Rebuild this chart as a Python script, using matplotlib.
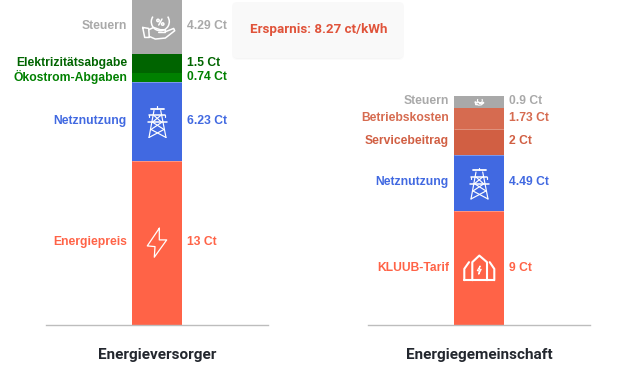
import matplotlib
matplotlib.use("Agg")
import matplotlib.pyplot as plt
from matplotlib.patches import FancyBboxPatch, Circle, Arc
from matplotlib.transforms import Affine2D

left_title = "Energieversorger"
left_labels = ["Energiepreis", "Netznutzung", "Ökostrom-Abgaben", "Elektrizitätsabgabe", "Steuern"]
left_values = [13, 6.23, 0.74, 1.5, 4.29]
left_colors = ["#FF6347", "#4169E1", "#008000", "#006400", "#A9A9A9"]
left_icons = ["bolt", "pylon", None, None, "hand"]

right_title = "Energiegemeinschaft"
right_labels = ["KLUUB-Tarif", "Netznutzung", "Servicebeitrag", "Betriebskosten", "Steuern"]
right_values = [9, 4.49, 2, 1.73, 0.9]
right_colors = ["#FF6347", "#4169E1", "#D15F43", "#D66B50", "#A9A9A9"]
right_icons = ["houses", "pylon", None, None, "hand_small"]

savings_text = "Ersparnis: 8.27 ct/kWh"

W, H = 622, 375
BASE = 325.0
Y_MAX = BASE / 12.63
LABEL_FONT = ["Liberation Sans", "DejaVu Sans"]
TITLE_FONT = ["Roboto", "DejaVu Sans"]

fig = plt.figure(figsize=(W / 100, H / 100), dpi=100, facecolor="white")


def line(ax, tf, pts, lw=1.0, closed=False):
    xs = [p[0] for p in pts]
    ys = [p[1] for p in pts]
    if closed:
        xs.append(xs[0])
        ys.append(ys[0])
    ax.plot(xs, ys, color="white", lw=lw, transform=tf, clip_on=False,
            solid_capstyle="round", solid_joinstyle="round", zorder=5)


def draw_bolt(ax, tf):
    pts = [(2.3, -14.7), (-9.7, 3), (-2, 3.7), (-2.7, 14.3), (9.7, -3), (2.3, -3)]
    line(ax, tf, pts, lw=0.9, closed=True)


def draw_pylon(ax, tf):
    lw = 0.85
    line(ax, tf, [(-3, -11), (-8, 16)], lw)
    line(ax, tf, [(3.7, -11), (9, 16)], lw)
    line(ax, tf, [(-6.3, -12.5), (6.7, -12.5)], 1.3)
    line(ax, tf, [(0.3, -15), (0.3, -12.5)], lw)
    line(ax, tf, [(-7.7, -6), (8.3, -6)], 1.1)
    line(ax, tf, [(-8.7, 0.7), (9.7, 0.7)], 1.1)
    line(ax, tf, [(-7.7, -6), (-7.7, -4)], lw)
    line(ax, tf, [(8.3, -6), (8.3, -4)], lw)
    line(ax, tf, [(-3, -6), (4.5, 0.7)], lw)
    line(ax, tf, [(3.7, -6), (-4.5, 0.7)], lw)
    line(ax, tf, [(-4.5, 0.7), (7, 8)], lw)
    line(ax, tf, [(5, 0.7), (-6, 8)], lw)
    line(ax, tf, [(-6, 8), (9, 16)], lw)
    line(ax, tf, [(7, 8), (-8, 16)], lw)


def draw_houses(ax, tf):
    lw = 1.5
    line(ax, tf, [(-6.7, 12), (-6.7, -6), (0.3, -12.6), (8, -6), (8, 12)], lw)
    line(ax, tf, [(-14.7, 12), (15.3, 12)], lw)
    line(ax, tf, [(-14.7, 12), (-14.7, 0.7), (-10, -6)], lw)
    line(ax, tf, [(15.3, 12), (15.3, 0.7), (10.7, -6)], lw)
    pts = [(1, -2), (-1.7, 2.5), (0.3, 2.5), (-0.3, 6), (2.2, 1.2), (0.3, 1.2)]
    line(ax, tf, pts, 0.8, closed=True)


def draw_hand(ax, tf, s=1.0, lw=1.1):
    def sc(pts):
        return [(x * s, y * s) for x, y in pts]
    ax.add_patch(Arc((3.3 * s, -5 * s), 18 * s, 18 * s, theta1=-35, theta2=215,
                     transform=tf, ec="white", lw=lw, zorder=5, clip_on=False))
    line(ax, tf, sc([(-14.3, 0.7), (-8.3, 1.7), (-7.7, 10.7), (-12.3, 10.7)]), lw, closed=True)
    line(ax, tf, sc([(-8.3, 3), (-3.3, 0.7), (3.3, 3), (8.3, 3), (8.3, 5.7), (1.7, 5.7)]), lw)
    line(ax, tf, sc([(8.3, 5), (16.7, 1.7), (17.7, 4), (8.3, 11.3), (-1.7, 12.3), (-7.7, 9.7)]), lw)
    if s >= 0.5:
        line(ax, tf, [(5, -7.7), (1.7, -1.7)], lw)
        for c in [(1, -6.3), (5.7, -2.7)]:
            ax.add_patch(Circle(c, 1.2, transform=tf, fc="none", ec="white", lw=lw, zorder=5, clip_on=False))


def draw_icon(ax, name, yc):
    px, py = ax.transData.transform((0, yc))
    # icon shapes are drafted in pixels around the segment centre, y pointing down
    tf = Affine2D().scale(1, -1).translate(px, py)
    if name == "bolt":
        draw_bolt(ax, tf)
    elif name == "pylon":
        draw_pylon(ax, tf)
    elif name == "houses":
        draw_houses(ax, tf)
    elif name == "hand":
        draw_hand(ax, tf)
    elif name == "hand_small":
        draw_hand(ax, tf, s=0.27, lw=0.8)


def stacked(rect_px, title, labels, values, colors, icons):
    x0, x1 = rect_px
    ax = fig.add_axes([x0 / W, 1 - BASE / H, (x1 - x0) / W, BASE / H])
    ax.patch.set_alpha(0)
    ax.set_xlim(-0.5, 0.5)
    ax.set_ylim(0, Y_MAX)
    ax.set_xticks([0])
    ax.set_xticklabels([title], fontfamily=TITLE_FONT, fontweight="bold", fontsize=11.0, color="#23272E")
    ax.tick_params(axis="x", length=0, pad=16.5)
    ax.set_yticks([])
    for side in ["left", "right", "top"]:
        ax.spines[side].set_visible(False)
    ax.spines["bottom"].set_color("#BDBDBD")
    ax.spines["bottom"].set_linewidth(1.0)

    bottom = 0
    bw = 50 / (x1 - x0)
    for label, value, color, icon in zip(labels, values, colors, icons):
        ax.bar(0, value, width=bw, bottom=bottom, color=color, linewidth=0, zorder=2)
        yc = bottom + value / 2
        if bottom and color not in ("#006400", "#A9A9A9"):
            ax.hlines(bottom, -bw / 2, bw / 2, color="white", lw=0.5, alpha=0.45, zorder=3)
        ax.annotate(label, (-bw / 2, yc), xytext=(-3.6, 0.4), textcoords="offset points",
                    ha="right", va="center", color=color, fontfamily=LABEL_FONT,
                    fontweight="bold", fontsize=8.7, annotation_clip=False)
        ax.annotate(f"{value:g} Ct", (bw / 2, yc), xytext=(3.6, 0.4), textcoords="offset points",
                    ha="left", va="center", color=color, fontfamily=LABEL_FONT,
                    fontweight="bold", fontsize=8.7, annotation_clip=False)
        if icon:
            draw_icon(ax, icon, yc)
        bottom += value
    return ax


stacked((46, 268), left_title, left_labels, left_values, left_colors, left_icons)
stacked((368, 590), right_title, right_labels, right_values, right_colors, right_icons)

# savings card with soft shadow
bg = fig.add_axes([0, 0, 1, 1], zorder=-1)
bg.set_xlim(0, W)
bg.set_ylim(H, 0)
bg.axis("off")
for i, a in zip(range(4, 0, -1), [0.015, 0.025, 0.035, 0.05]):
    bg.add_patch(FancyBboxPatch((232 - i + 4, 2 - i + 6), 172 + 2 * i - 8, 56 + 2 * i - 8,
                                boxstyle="round,pad=0,rounding_size=5", fc="black", ec="none", alpha=a))
bg.add_patch(FancyBboxPatch((232, 2), 172, 56, boxstyle="round,pad=0,rounding_size=5",
                            fc="#F9F9F9", ec="none"))
bg.text(318.5, 30, savings_text, ha="center", va="center", color="#E0533A",
        fontfamily=TITLE_FONT, fontweight="bold", fontsize=9.6)

fig.savefig("out.png", dpi=100)
